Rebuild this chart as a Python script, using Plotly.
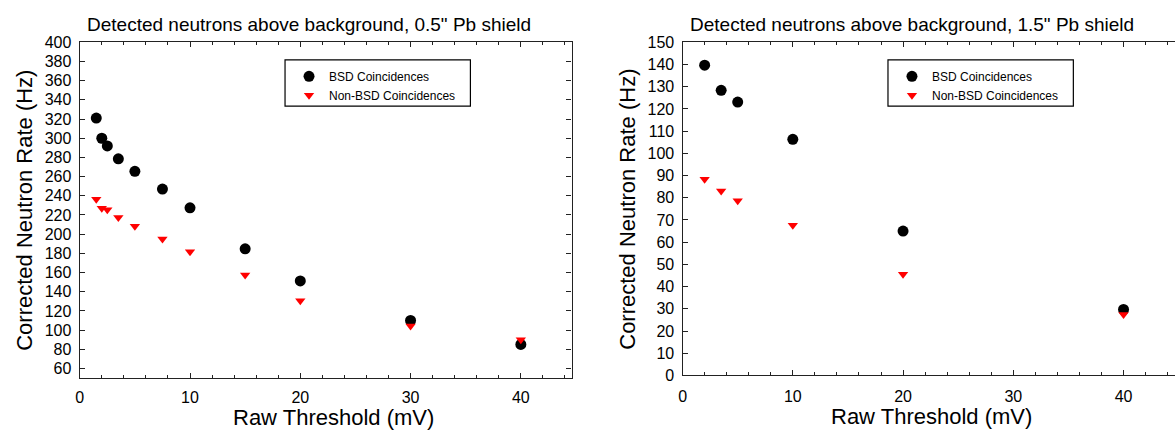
import plotly.graph_objects as go

# ---------------- data ----------------
thr_left = [1.5, 2, 2.5, 3.5, 5, 7.5, 10, 15, 20, 30, 40]
bsd_left = [321, 300, 292, 278.5, 265.5, 247, 227.5, 184.7, 151.3, 110, 85]
nonbsd_left = [236.3, 227, 225.5, 217.5, 208.3, 195, 181.7, 157.3, 130.7, 104.3, 90]

thr_right = [2, 3.5, 5, 10, 20, 40]
bsd_right = [139.7, 128.4, 123.1, 106.3, 65, 29.7]
nonbsd_right = [88.3, 83, 78.7, 67.6, 45.6, 27.4]

title_left = 'Detected neutrons above background, 0.5" Pb shield'
title_right = 'Detected neutrons above background, 1.5" Pb shield'
xlabel = "Raw Threshold (mV)"
ylabel = "Corrected Neutron Rate (Hz)"
name_bsd = "BSD Coincidences"
name_non = "Non-BSD Coincidences"

W, H = 1175, 438
FONT = "Liberation Sans, Arial, sans-serif"


def px(x):
    return x / W


def py(y):
    return 1 - y / H


fig = go.Figure()

circle = dict(symbol="circle", size=11, color="black")
tri = dict(symbol="triangle-down", size=9, color="#ff0000")

fig.add_trace(go.Scatter(x=thr_left, y=bsd_left, mode="markers", marker=circle,
                         name=name_bsd, xaxis="x", yaxis="y", legend="legend"))
fig.add_trace(go.Scatter(x=thr_left, y=nonbsd_left, mode="markers", marker=tri,
                         name=name_non, xaxis="x", yaxis="y", legend="legend"))
fig.add_trace(go.Scatter(x=thr_right, y=bsd_right, mode="markers", marker=circle,
                         name=name_bsd, xaxis="x2", yaxis="y2", legend="legend2"))
fig.add_trace(go.Scatter(x=thr_right, y=nonbsd_right, mode="markers", marker=tri,
                         name=name_non, xaxis="x2", yaxis="y2", legend="legend2"))

LC = "#222"
axis_common = dict(
    showline=True, linecolor=LC, linewidth=1.3, mirror="ticks",
    ticks="inside", tickcolor=LC, tickwidth=1.2, ticklen=5,
    showgrid=False, zeroline=False,
    tickfont=dict(family=FONT, size=16, color="black"),
)

xcommon = dict(axis_common, dtick=10, tick0=0,
               minor=dict(dtick=2, ticks="inside", ticklen=3, tickcolor=LC, tickwidth=1.2, showgrid=False))

fig.update_layout(
    width=W, height=H,
    margin=dict(l=0, r=0, t=0, b=0),
    paper_bgcolor="white", plot_bgcolor="white",
    font=dict(family=FONT, color="black"),
    xaxis=dict(xcommon, domain=[px(76), px(569.5)], range=[0, 44.6], anchor="y",
               ticklabelstandoff=5),
    yaxis=dict(axis_common, domain=[py(385), py(35.7)], range=[50, 400], dtick=20, tick0=0,
               anchor="x", ticklabelstandoff=4),
    xaxis2=dict(xcommon, domain=[px(680.9), 1.0], range=[0, 44.67], anchor="y2",
                ticklabelstandoff=6),
    yaxis2=dict(axis_common, mirror=False, domain=[py(382.3), py(35.7)], range=[0, 150],
                dtick=10, tick0=0, anchor="x2", ticklabelstandoff=4),
    # right-hand tick marks of the right panel (its frame line lies just outside the page)
    yaxis3=dict(overlaying="y2", side="right", anchor="x2", range=[0, 150], dtick=10, tick0=0,
                ticks="inside", ticklen=3, tickcolor=LC, tickwidth=1.2, showline=False,
                showticklabels=False, showgrid=False, zeroline=False),
    legend=dict(x=px(286), y=py(56), xanchor="left", yanchor="top",
                bgcolor="rgba(0,0,0,0)", borderwidth=0, tracegroupgap=0,
                font=dict(family=FONT, size=12, color="black")),
    legend2=dict(x=px(891), y=py(56), xanchor="left", yanchor="top",
                 bgcolor="rgba(0,0,0,0)", borderwidth=0, tracegroupgap=0,
                 font=dict(family=FONT, size=12, color="black")),
    showlegend=True,
)

# legend frames
for x0, x1 in [(282, 468), (887, 1073)]:
    fig.add_shape(type="rect", xref="paper", yref="paper",
                  x0=px(x0), x1=px(x1), y0=py(102), y1=py(54),
                  line=dict(color="black", width=1.2), fillcolor="rgba(0,0,0,0)", layer="below")

ann = []
for cx, t in [(306, title_left), (911, title_right)]:
    ann.append(dict(text=t, x=px(cx), y=py(17), xref="paper", yref="paper",
                    showarrow=False, xanchor="center", yanchor="middle",
                    font=dict(family=FONT, size=19, color="black")))
for cx, cy in [(331, 426.5), (931, 424.5)]:
    ann.append(dict(text=xlabel, x=px(cx), y=py(cy), xref="paper", yref="paper",
                    showarrow=False, xanchor="center", yanchor="middle",
                    font=dict(family=FONT, size=22, color="black")))
for cx, cy in [(21, 210), (626, 209)]:
    ann.append(dict(text=ylabel, x=px(cx), y=py(cy), xref="paper", yref="paper",
                    showarrow=False, xanchor="center", yanchor="middle", textangle=-90,
                    font=dict(family=FONT, size=22, color="black")))
fig.update_layout(annotations=ann)

fig.write_html("out.html")
